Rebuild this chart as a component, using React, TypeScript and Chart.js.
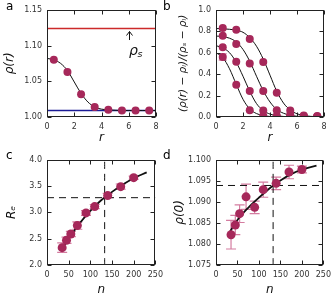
import React, { useEffect, useRef } from "react";
import { Chart, registerables } from "chart.js";
Chart.register(...registerables);

// ---------- Panel a ----------
const rPts = [0.5, 1.5, 2.5, 3.5, 4.5, 5.5, 6.5, 7.5];
const rhoPtsA = [1.080, 1.063, 1.032, 1.014, 1.010, 1.009, 1.009, 1.009];
const rFit = [0, 0.5, 1, 1.5, 2, 2.5, 3, 3.5, 4, 4.5, 5, 5.5, 6, 6.5, 7, 7.5, 8];
const rhoFitA = [1.082, 1.080, 1.075, 1.065, 1.049, 1.033, 1.021, 1.014, 1.011, 1.010, 1.0095, 1.009, 1.009, 1.009, 1.009, 1.009, 1.009];
const rhoS = 1.124;
const rhoL = 1.009;

// ---------- Panel b ----------
const normPtsA = [0.83, 0.815, 0.727, 0.512, 0.227, 0.06, 0.015, 0.01];
const normPtsB = [0.758, 0.682, 0.50, 0.243, 0.062, 0.02, 0.01, 0.005];
const normPtsC = [0.65, 0.515, 0.243, 0.06, 0.012, 0.005, 0.003, 0.002];
const normPtsD = [0.56, 0.30, 0.063, 0.012, 0.003, 0.002, 0.001, 0.001];
const normErrD = [0.03, 0, 0, 0, 0, 0, 0, 0];
const normFitA = [0.825, 0.823, 0.818, 0.81, 0.79, 0.74, 0.66, 0.54, 0.39, 0.24, 0.13, 0.065, 0.03, 0.014, 0.006, 0.003, 0.001];
const normFitB = [0.755, 0.75, 0.735, 0.70, 0.63, 0.52, 0.38, 0.245, 0.14, 0.07, 0.035, 0.016, 0.007, 0.003, 0.001, 0, 0];
const normFitC = [0.665, 0.645, 0.60, 0.51, 0.38, 0.24, 0.125, 0.06, 0.027, 0.012, 0.005, 0.002, 0.001, 0, 0, 0, 0];
const normFitD = [0.60, 0.555, 0.45, 0.305, 0.165, 0.075, 0.032, 0.013, 0.005, 0.002, 0.001, 0, 0, 0, 0, 0, 0];

// ---------- Panel c ----------
const nPts = [35, 45, 55, 70, 90, 110, 140, 170, 200];
const rePts = [2.33, 2.47, 2.59, 2.75, 2.99, 3.11, 3.32, 3.49, 3.66];
const reErr = [0.09, 0.06, 0.05, 0.07, 0.045, 0.04, 0.04, 0.05, 0.03];
const nFitC = [33, 50, 75, 100, 125, 150, 175, 200, 230];
const reFit = [2.28, 2.50, 2.79, 3.03, 3.23, 3.39, 3.53, 3.65, 3.76];
const nStar = 133;
const reStar = 3.28;

// ---------- Panel d ----------
const rho0Pts = [1.0822, 1.0845, 1.0872, 1.0912, 1.0887, 1.0929, 1.0944, 1.0971, 1.0977];
const rho0Err = [0.0034, 0.0023, 0.0021, 0.0030, 0.0015, 0.0018, 0.0015, 0.0016, 0.0008];
const nFitD = [33, 50, 75, 100, 133, 150, 175, 200, 234];
const rho0Fit = [1.0830, 1.0857, 1.0886, 1.0910, 1.0939, 1.0951, 1.0966, 1.0977, 1.0986];
const rho0Star = 1.0939;

const MARK = "#a6285a";
const ERRC = "#d47ca0";
const FONT = "DejaVu Sans";

const zip = (xs: number[], ys: number[]) => xs.map((x, i) => ({ x, y: ys[i] }));

const framePlugin = {
  id: "frame",
  afterDraw(chart: any) {
    const { ctx, chartArea: a, scales } = chart;
    const L = Math.round(a.left) + 0.5, R = Math.round(a.right) - 0.5;
    const T = Math.round(a.top) + 0.5, B = Math.round(a.bottom) - 0.5;
    ctx.save();
    ctx.strokeStyle = "#222";
    ctx.lineWidth = 1;
    ctx.strokeRect(L, T, R - L, B - T);
    const len = 4;
    ctx.beginPath();
    scales.x.ticks.forEach((t: any) => {
      const x = Math.round(scales.x.getPixelForValue(t.value)) + 0.5;
      ctx.moveTo(x, B); ctx.lineTo(x, B - len);
      ctx.moveTo(x, T); ctx.lineTo(x, T + len);
    });
    scales.y.ticks.forEach((t: any) => {
      const y = Math.round(scales.y.getPixelForValue(t.value)) + 0.5;
      ctx.moveTo(L, y); ctx.lineTo(L + len, y);
      ctx.moveTo(R, y); ctx.lineTo(R - len, y);
    });
    ctx.stroke();
    ctx.restore();
  },
};

const errPlugin = {
  id: "errbars",
  beforeDatasetsDraw(chart: any, _args: any, opts: any) {
    if (!opts || !opts.sets) return;
    const { ctx, scales } = chart;
    ctx.save();
    ctx.strokeStyle = ERRC;
    ctx.lineWidth = 1.2;
    opts.sets.forEach((s: any) => {
      s.x.forEach((xv: number, i: number) => {
        const e = s.err[i];
        if (!e) return;
        const px = scales.x.getPixelForValue(xv);
        const y1 = scales.y.getPixelForValue(s.y[i] - e);
        const y2 = scales.y.getPixelForValue(s.y[i] + e);
        const cw = s.cap || 4;
        ctx.beginPath();
        ctx.moveTo(px, y1); ctx.lineTo(px, y2);
        ctx.moveTo(px - cw, y1); ctx.lineTo(px + cw, y1);
        ctx.moveTo(px - cw, y2); ctx.lineTo(px + cw, y2);
        ctx.stroke();
      });
    });
    ctx.restore();
  },
};

// annotation constants for the rho_s arrow in panel a (data coordinates)
const arrowR = 6.0;
const arrowTip = 1.1196;
const arrowTail = 1.1077;
const labelR = 6.02;
const labelRho = 1.087;

const annotPlugin = {
  id: "rhoS",
  afterDatasetsDraw(chart: any) {
    const { ctx, scales } = chart;
    const x = Math.round(scales.x.getPixelForValue(arrowR)) + 0.5;
    const yt = scales.y.getPixelForValue(arrowTip);
    const yb = scales.y.getPixelForValue(arrowTail);
    ctx.save();
    ctx.strokeStyle = "#111";
    ctx.lineWidth = 1;
    ctx.beginPath();
    ctx.moveTo(x, yb); ctx.lineTo(x, yt);
    ctx.moveTo(x - 3, yt + 4); ctx.lineTo(x, yt); ctx.lineTo(x + 3, yt + 4);
    ctx.stroke();
    const lx = scales.x.getPixelForValue(labelR);
    const ly = scales.y.getPixelForValue(labelRho);
    ctx.fillStyle = "#111";
    ctx.textBaseline = "alphabetic";
    ctx.textAlign = "left";
    ctx.font = `italic 14px ${FONT}`;
    ctx.fillText("ρ", lx, ly);
    const w = ctx.measureText("ρ").width;
    ctx.font = `italic 9.5px ${FONT}`;
    ctx.fillText("s", lx + w - 0.5, ly + 2.5);
    ctx.restore();
  },
};

function xAxis(min: number, max: number, step: number, dec: number, title: string, height: number, titlePad: number) {
  return {
    type: "linear",
    position: "bottom",
    min, max,
    afterFit: (s: any) => { s.height = height; },
    ticks: {
      stepSize: step, padding: 5, color: "#333", autoSkip: false, maxRotation: 0,
      font: { family: FONT, size: 8 },
      callback: (v: any) => Number(v).toFixed(dec),
    },
    grid: { display: false, drawTicks: false },
    border: { display: false },
    title: { display: true, text: title, color: "#111", font: { family: FONT, size: 12, style: "italic" }, padding: { top: 0, bottom: titlePad } },
  };
}

function yAxis(min: number, max: number, step: number, dec: number, title: string, width: number, titlePad: number, titleSize = 12) {
  return {
    type: "linear",
    position: "left",
    min, max,
    afterFit: (s: any) => { s.width = width; },
    ticks: {
      stepSize: step, padding: 5, color: "#333", autoSkip: false,
      font: { family: FONT, size: 8 },
      callback: (v: any) => Number(v).toFixed(dec),
    },
    grid: { display: false, drawTicks: false },
    border: { display: false },
    title: { display: true, text: title, color: "#111", font: { family: FONT, size: titleSize, style: "italic" }, padding: { top: titlePad, bottom: 0 } },
  };
}

const pointsDs = (xs: number[], ys: number[], r = 4) => ({
  data: zip(xs, ys),
  showLine: false,
  pointRadius: r,
  pointBackgroundColor: MARK,
  pointBorderWidth: 0,
  clip: 0,
});

const lineDs = (xs: number[], ys: number[], color = "#111", width = 1, dash: number[] = []) => ({
  data: zip(xs, ys),
  showLine: true,
  pointRadius: 0,
  borderColor: color,
  borderWidth: width,
  borderDash: dash,
  cubicInterpolationMode: "monotone",
  fill: false,
  clip: 0,
});

function baseOptions(scales: any, padding: any, errSets: any[] | null) {
  return {
    responsive: false,
    maintainAspectRatio: false,
    animation: false,
    events: [],
    layout: { padding },
    plugins: {
      legend: { display: false },
      tooltip: { enabled: false },
      errbars: errSets ? { sets: errSets } : {},
    },
    scales,
  };
}

function makeA(): any {
  return {
    type: "scatter",
    data: {
      datasets: [
        pointsDs(rPts, rhoPtsA, 4),
        lineDs(rFit, rhoFitA, "#111", 1),
        lineDs([0, 8], [rhoS, rhoS], "#cc2a2a", 1.5),
        lineDs([0, 8], [rhoL, rhoL], "#1c1c96", 1.5),
      ],
    },
    options: baseOptions(
      { x: xAxis(0, 8, 2, 0, "r", 33, 5), y: yAxis(1.0, 1.15, 0.05, 2, "ρ(r)", 47, 3) },
      { left: 0, top: 7, right: 12, bottom: 0 },
      null
    ),
    plugins: [framePlugin, errPlugin, annotPlugin],
  };
}

function makeB(): any {
  return {
    type: "scatter",
    data: {
      datasets: [
        pointsDs(rPts, normPtsA, 4),
        pointsDs(rPts, normPtsB, 4),
        pointsDs(rPts, normPtsC, 4),
        pointsDs(rPts, normPtsD, 4),
        lineDs(rFit, normFitA),
        lineDs(rFit, normFitB),
        lineDs(rFit, normFitC),
        lineDs(rFit, normFitD),
      ],
    },
    options: baseOptions(
      { x: xAxis(0, 8, 2, 0, "r", 33, 5), y: yAxis(0, 1.0, 0.2, 1, "(ρ(r) − ρₗ)/(ρₛ − ρₗ)", 48, 9, 10.5) },
      { left: 0, top: 7, right: 12, bottom: 0 },
      [{ x: rPts, y: normPtsD, err: normErrD, cap: 4 }]
    ),
    plugins: [framePlugin, errPlugin],
  };
}

function makeC(): any {
  return {
    type: "scatter",
    data: {
      datasets: [
        pointsDs(nPts, rePts, 4.5),
        lineDs(nFitC, reFit, "#111", 1.8),
        lineDs([0, 250], [reStar, reStar], "#111", 1, [7, 5]),
        lineDs([nStar, nStar], [2.0, 4.0], "#111", 1, [7, 5]),
      ],
    },
    options: baseOptions(
      { x: xAxis(0, 250, 50, 0, "n", 35, 3), y: yAxis(2.0, 4.0, 0.5, 1, "Rₑ", 47, 5) },
      { left: 0, top: 6, right: 12, bottom: 0 },
      [{ x: nPts, y: rePts, err: reErr, cap: 5 }]
    ),
    plugins: [framePlugin, errPlugin],
  };
}

function makeD(): any {
  return {
    type: "scatter",
    data: {
      datasets: [
        pointsDs(nPts, rho0Pts, 4.5),
        lineDs(nFitD, rho0Fit, "#111", 1.8),
        lineDs([0, 250], [rho0Star, rho0Star], "#111", 1, [7, 5]),
        lineDs([nStar, nStar], [1.075, 1.1], "#111", 1, [7, 5]),
      ],
    },
    options: baseOptions(
      { x: xAxis(0, 250, 50, 0, "n", 35, 3), y: yAxis(1.075, 1.1, 0.005, 3, "ρ(0)", 48, 4.5) },
      { left: 0, top: 6, right: 11, bottom: 0 },
      [{ x: nPts, y: rho0Pts, err: rho0Err, cap: 5 }]
    ),
    plugins: [framePlugin, errPlugin],
  };
}

function Panel({ left, top, make }: { left: number; top: number; make: () => any }) {
  const ref = useRef<HTMLCanvasElement | null>(null);
  useEffect(() => {
    if (!ref.current) return;
    const chart = new Chart(ref.current, make());
    return () => chart.destroy();
  }, [make]);
  return (
    <div style={{ position: "absolute", left, top, width: 168, height: 150 }}>
      <canvas ref={ref} width={168} height={150} style={{ display: "block", width: 168, height: 150 }} />
    </div>
  );
}

const letterStyle = (left: number, top: number): React.CSSProperties => ({
  position: "absolute",
  left,
  top,
  fontFamily: FONT,
  fontSize: 12,
  lineHeight: "12px",
  color: "#000",
  zIndex: 2,
});

export default function App() {
  return (
    <div style={{ position: "fixed", left: 0, top: 0, width: 336, height: 300, background: "#fff", overflow: "hidden" }}>
      <Panel left={0} top={0} make={makeA} />
      <Panel left={168} top={0} make={makeB} />
      <Panel left={0} top={150} make={makeC} />
      <Panel left={168} top={150} make={makeD} />
      <div style={letterStyle(6, 0)}>a</div>
      <div style={letterStyle(163, 0)}>b</div>
      <div style={letterStyle(6, 149)}>c</div>
      <div style={letterStyle(163, 149)}>d</div>
    </div>
  );
}
